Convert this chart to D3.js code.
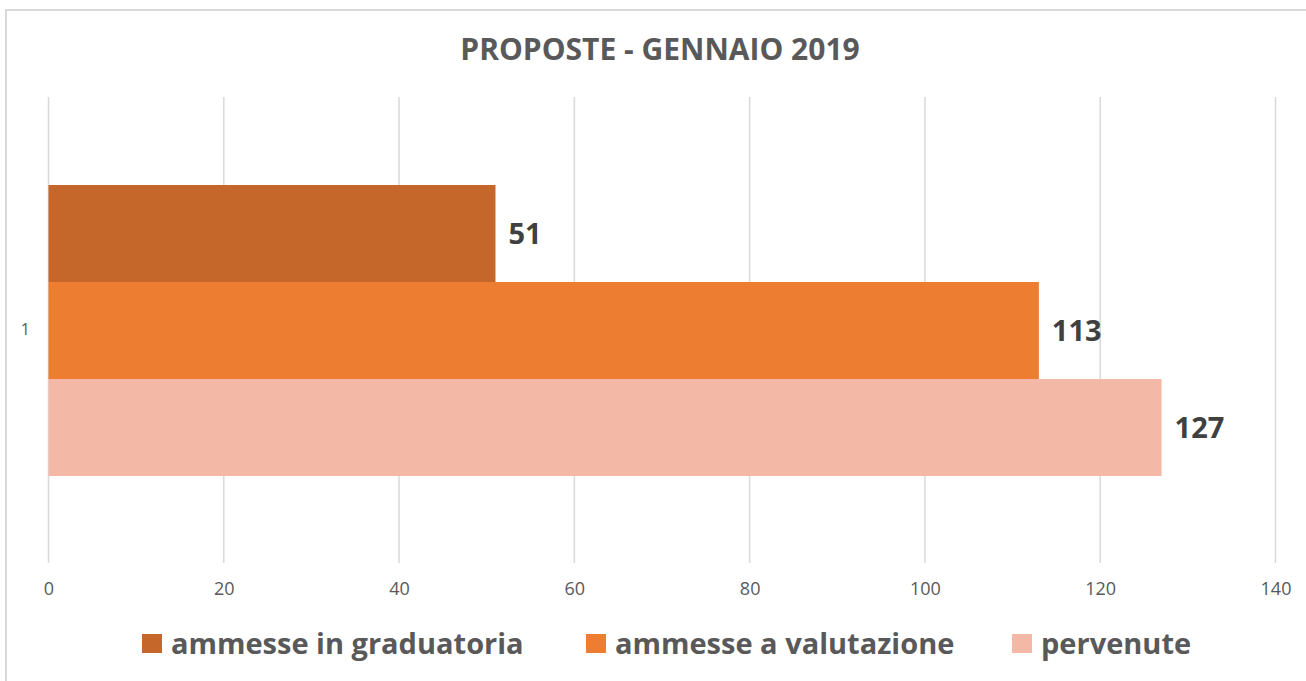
<!DOCTYPE html>
<html>
<head>
  <meta charset="utf-8">
  <title>Proposte - Gennaio 2019</title>
  <script src="https://d3js.org/d3.v7.min.js"></script>
  <style>
    body { margin: 0; background: #fff; }
    svg { display: block; font-family: "Open Sans", "Noto Sans", sans-serif; }
    .grid line { stroke: #d9d9d9; stroke-width: 1.5; }
  </style>
</head>
<body>
  <svg id="chart"></svg>
  <script>
    // dati
    var categories = ["1"];
    var series = ["ammesse in graduatoria", "ammesse a valutazione", "pervenute"];
    var values = [51, 113, 127];
    var colors = ["#c5672b", "#ed7d31", "#f4b9a6"];
    var xTicks = [0, 20, 40, 60, 80, 100, 120, 140];

    var W = 1306, H = 681;
    var svg = d3.select("#chart").attr("width", W).attr("height", H);

    // cornice (solo lato sinistro e superiore visibili)
    svg.append("path")
      .attr("d", "M6," + H + "V10H" + W)
      .attr("fill", "none")
      .attr("stroke", "#d9d9d9")
      .attr("stroke-width", 2);

    // titolo
    svg.append("text")
      .attr("x", 660).attr("y", 60)
      .attr("text-anchor", "middle")
      .attr("font-size", 30)
      .attr("font-weight", "bold")
      .attr("fill", "#595959")
      .text("PROPOSTE - GENNAIO 2019");

    var x = d3.scaleLinear().domain([0, 140]).range([48.5, 1275.5]);
    var y = d3.scaleBand().domain(categories).range([97, 563]);
    var ySeries = d3.scaleBand().domain(series).range([185, 476]);

    // griglia verticale
    svg.append("g").attr("class", "grid")
      .selectAll("line")
      .data(xTicks)
      .join("line")
      .attr("x1", function (d) { return x(d); })
      .attr("x2", function (d) { return x(d); })
      .attr("y1", 97)
      .attr("y2", 563);

    // asse x (solo etichette)
    var xAxis = svg.append("g")
      .attr("transform", "translate(0,563)")
      .call(d3.axisBottom(x).tickValues(xTicks).tickSize(0).tickPadding(19));
    xAxis.select(".domain").remove();
    xAxis.attr("font-size", 18).attr("font-family", "Open Sans");
    xAxis.selectAll("text")
      .style("font-size", "18px")
      .style("fill", "#595959");

    // asse y (solo etichetta)
    var yAxis = svg.append("g")
      .attr("transform", "translate(33,0)")
      .call(d3.axisLeft(y).tickSize(0).tickPadding(3));
    yAxis.select(".domain").remove();
    yAxis.attr("font-size", 16).attr("font-family", "Open Sans");
    yAxis.selectAll("text")
      .style("font-size", "16px")
      .style("fill", "#595959");

    // barre
    var rows = series.map(function (s, i) { return { name: s, value: values[i], color: colors[i] }; });

    svg.append("g")
      .selectAll("rect")
      .data(rows)
      .join("rect")
      .attr("x", x(0))
      .attr("y", function (d) { return ySeries(d.name); })
      .attr("width", function (d) { return x(d.value) - x(0); })
      .attr("height", ySeries.bandwidth())
      .attr("fill", function (d) { return d.color; });

    // etichette dei valori
    svg.append("g")
      .selectAll("text")
      .data(rows)
      .join("text")
      .attr("x", function (d) { return x(d.value) + 13; })
      .attr("y", function (d) { return ySeries(d.name) + ySeries.bandwidth() / 2; })
      .attr("dy", "0.35em")
      .attr("font-size", 29)
      .attr("font-weight", "bold")
      .attr("fill", "#404040")
      .text(function (d) { return d.value; });

    // legenda
    var legendX = [142, 586, 1012];
    var legend = svg.append("g")
      .selectAll("g")
      .data(rows)
      .join("g")
      .attr("transform", function (d, i) { return "translate(" + legendX[i] + ",634)"; });
    legend.append("rect")
      .attr("width", 20).attr("height", 19)
      .attr("fill", function (d) { return d.color; });
    legend.append("text")
      .attr("x", 29).attr("y", 10)
      .attr("dy", "0.35em")
      .attr("font-size", 29)
      .attr("font-weight", "bold")
      .attr("fill", "#595959")
      .text(function (d) { return d.name; });
  </script>
</body>
</html>
